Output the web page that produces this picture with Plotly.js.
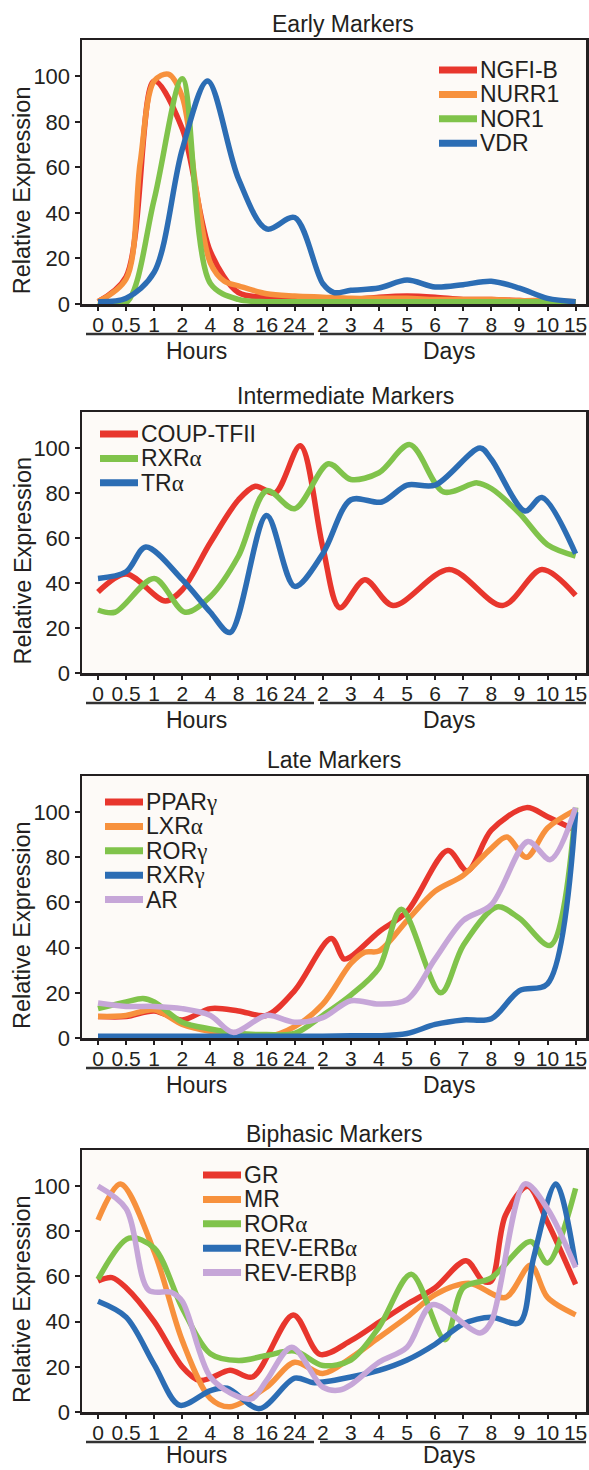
<!DOCTYPE html>
<html>
<head>
<meta charset="utf-8">
<script src="https://cdn.plot.ly/plotly-3.0.1.min.js"></script>
<style>
html,body{margin:0;padding:0;background:#ffffff;}
#chart{width:589px;height:1470px;}
</style>
</head>
<body>
<div id="chart"></div>
<script>
// ---------------- categories / labels ----------------
const timeLabels = ['0','0.5','1','2','4','8','16','24','2','3','4','5','6','7','8','9','10','15'];
const periodLabels = ['Hours','Days'];
const panelTitles = ['Early Markers','Intermediate Markers','Late Markers','Biphasic Markers'];
const yTitle = 'Relative Expression';
const yTicks = [0,20,40,60,80,100];

// ---------------- Early markers (x = category index) ----------------
const earlyNames = ['NGFI-B','NURR1','NOR1','VDR'];
const ngfibT = [0,1,2,3,4,5,6,7,8,9,10,11,12,13,14,15,16,17];
const ngfibV = [1,12,98,77,23,5,3,3,2.5,2,3,3.5,3,2,2,1.5,1,1];
const nurr1T = [0,1,1.5,2,2.5,3,3.5,4,4.5,5,6,7,8,9,10,11,12,13,14,15,16,17];
const nurr1V = [1,11,62,98,101,91,50,18,10,8,4.5,3.5,3,2.5,2.5,2.5,2,2,2,1.5,1.5,1];
const nor1T = [0,1,2,3,4,5,6,7,8,9,10,11,12,13,14,15,16,17];
const nor1V = [1,0.5,46,99,9,2,1,1,1,1,1,1,1,1,1,1,1,1];
const vdrT = [0,1,2,3,3.9,5,6,7,8,8.4,9,10,11,12,13,14,15,16,17];
const vdrV = [1,2.5,14,68,98,55,33,38,9,5,6,7,10.5,7.5,8.5,10,7,2.5,1];

// ---------------- Intermediate markers ----------------
const interNames = ['COUP-TFII','RXRα','TRα'];
const couptfT = [0,1,2.4,3,4,5,5.6,6.3,7.2,8,8.6,9.5,10.5,12.5,14.4,15.8,17];
const couptfV = [36,44,32,37,58,77,83,80,101,56,29,41.5,30,46,30,46,34.5];
const rxraT = [0,0.6,2,3.1,4,5,6,7,8.2,9,10,11.1,12.3,13.5,14,15,16,17];
const rxraV = [28,27,42,27,34,52,81,73,93,86,89,101.5,80.5,84.5,82,71,57,52];
const traT = [0,1,1.7,3,4,4.7,6,7,8,9,10.1,11,12,13.6,14,15.2,15.8,17];
const traV = [42,45,56,41.5,27,18,70,38.5,53,77,76,83.5,83.5,100,95,72,78,53];

// ---------------- Late markers ----------------
const lateNames = ['PPARγ','LXRα','RORγ','RXRγ','AR'];
const ppargT = [0,1,2,3,4,5,6,7,8.3,8.75,9,10,11,12.45,13.15,14,15.25,16,17];
const ppargV = [9.5,9.5,12,8,13,12,10,21,44,35,36,47,56,83,74,92,102,98,92];
const lxraT = [0,1,2,3,4,5,6,7,8,9,9.5,10,11,12,13,14,14.55,15.25,16,17];
const lxraV = [9.5,10,12.5,6,3,2,0.5,5,15,33,38,38.5,52,65,72,84,89,80,93,101];
const rorgT = [0,1,1.6,2,3,4,5,6,7,8,9,10,10.8,12.2,13,14.2,15,16.1,17];
const rorgV = [13,16,17.5,16,7,4,2,1.5,2,10,19,31,57,20,41,58,53,41,102];
const rxrgT = [0,1,2,3,4,5,6,7,8,9,10,11,12,13,14,15,16,17];
const rxrgV = [0.8,0.8,0.8,0.8,0.8,0.8,0.8,0.8,0.8,1,1,2,6,8,8.5,21,24,100];
const arT = [0,1,2,3,4,4.8,6,7,8,9,10,11,12,13,14,15.3,16.1,17];
const arV = [15.5,14,14,13,10,2.5,10,7,9,16.5,15,17,35,52,59,87,79,102];

// ---------------- Biphasic markers ----------------
const biNames = ['GR','MR','RORα','REV-ERBα','REV-ERBβ'];
const grT = [0,0.5,1,2,3,3.6,4,4.7,5.5,6.95,7.9,9,10,11,12,13.1,13.7,14,14.5,15.3,16,17];
const grV = [58,59.5,55,40,20,14,15,18.5,15.5,43,25.5,31.6,39.7,47.7,55,67,58,58,87,100,84,56.5];
const mrT = [0,0.8,2,3,4,4.7,6,7,8,9,10,11,12,13.2,14.5,15.4,16,17];
const mrV = [85,101,71,31.6,6,2.3,11,22,17,24,33,42,52,57,50.7,65,50.7,43];
const roraT = [0,1.1,2,3,4,5,6,7,8,9,10,11.15,12.35,13,14,15.4,16,17];
const roraV = [58.7,77,72.6,46,25.8,22.8,25,27,20.6,23,37.5,61,32,55,59.4,75.5,66,99];
const reverbaT = [0,1,2,2.9,4,4.6,5.75,7,7.7,9,10,11,12,13,14,15,15.5,16.3,17];
const reverbaV = [49,42,21,3,9.5,10.5,1.5,15,13,15.5,18.4,23,30,39,42,39.5,68,101,65];
const reverbbT = [0,1,1.8,2.6,3,4,5,5.5,6,6.9,8,8.6,9,10,11,11.9,13.6,14,15.2,16,17];
const reverbbV = [100,90,54,53,49,15.5,6.7,6,14,28.7,11,9.7,12,22,28.7,47.5,35,40,101,90,64];

// ---------------- styling ----------------
const FONT = '"Liberation Sans", Arial, Helvetica, sans-serif';
const INK = '#231f20';
const C = {red:'#e8362d', orange:'#f7913d', green:'#80c34b', blue:'#2c6db4', lilac:'#c6a6d8'};
const W = 589, H = 1470;
const PX_LEFT = 82, PX_RIGHT = 586;
const xRange = [-0.57, 17.37];
const yRange = [0, 116];

const panels = [
  {title: panelTitles[0], names: earlyNames, t:[ngfibT,nurr1T,nor1T,vdrT], v:[ngfibV,nurr1V,nor1V,vdrV],
   colors:[C.red,C.orange,C.green,C.blue], top:40, bottom:304, legLeft:357, legTop:30, titleShift:9, labShift:-47},
  {title: panelTitles[1], names: interNames, t:[couptfT,rxraT,traT], v:[couptfV,rxraV,traV],
   colors:[C.red,C.green,C.blue], top:412, bottom:673, legLeft:18, legTop:22, titleShift:11, labShift:-47},
  {title: panelTitles[2], names: lateNames, t:[ppargT,lxraT,rorgT,rxrgT,arT], v:[ppargV,lxraV,rorgV,rxrgV,arV],
   colors:[C.red,C.orange,C.green,C.blue,C.lilac], top:776, bottom:1038, legLeft:23, legTop:26, titleShift:0, labShift:-47},
  {title: panelTitles[3], names: biNames, t:[grT,mrT,roraT,reverbaT,reverbbT], v:[grV,mrV,roraV,reverbaV,reverbbV],
   colors:[C.red,C.orange,C.green,C.blue,C.lilac], top:1150, bottom:1412, legLeft:121, legTop:25, titleShift:0, labShift:-43}
];

const tickPos = timeLabels.map((_, i) => i);
const greek = s => s.replace(/([αβγ])/g, '<span style="font-family:\'Liberation Serif\', serif">$1</span>');

const traces = [];
const shapes = [];
const annotations = [];
const layout = {
  width: W, height: H, autosize: false,
  margin: {l:0, r:0, t:0, b:0, pad:0},
  paper_bgcolor: '#ffffff',
  plot_bgcolor: '#fdfaf7',
  font: {family: FONT, color: INK, size: 22},
  showlegend: false,
  shapes: shapes,
  annotations: annotations
};

const LEG_ROW = 24.4, SW_LEN = 38;

panels.forEach((p, k) => {
  const suf = k === 0 ? '' : String(k + 1);
  const xa = 'x' + suf, ya = 'y' + suf;
  const yDom = [1 - p.bottom / H, 1 - p.top / H];
  layout['xaxis' + suf] = {
    domain: [PX_LEFT / W, PX_RIGHT / W], range: xRange, anchor: ya,
    tickmode: 'array', tickvals: tickPos, ticktext: timeLabels,
    ticks: 'outside', ticklen: 4, tickwidth: 2, tickcolor: INK,
    ticklabelstandoff: -4,
    showline: true, linecolor: INK, linewidth: 2.5, mirror: true,
    showgrid: false, zeroline: false, fixedrange: true,
    tickfont: {family: FONT, size: 21, color: INK}
  };
  layout['yaxis' + suf] = {
    domain: yDom, range: yRange, anchor: xa,
    tickmode: 'array', tickvals: yTicks,
    ticks: 'outside', ticklen: 5, tickwidth: 2, tickcolor: INK,
    showline: true, linecolor: INK, linewidth: 2.5, mirror: true,
    showgrid: false, zeroline: false, fixedrange: true,
    tickfont: {family: FONT, size: 22, color: INK}
  };

  p.names.forEach((name, j) => {
    traces.push({
      type: 'scatter', mode: 'lines', name: name,
      x: p.t[j], y: p.v[j], xaxis: xa, yaxis: ya,
      line: {color: p.colors[j], width: 5.5, shape: 'spline', smoothing: 0.9},
      hoverinfo: 'skip'
    });
    // legend swatch + label
    const yOff = -(p.legTop + j * LEG_ROW);
    shapes.push({
      type: 'line', xref: xa + ' domain', yref: ya + ' domain',
      xsizemode: 'pixel', xanchor: 0, x0: p.legLeft, x1: p.legLeft + SW_LEN,
      ysizemode: 'pixel', yanchor: 1, y0: yOff, y1: yOff,
      line: {color: p.colors[j], width: 7}
    });
    annotations.push({
      text: greek(name), showarrow: false,
      xref: xa + ' domain', x: 0, xshift: p.legLeft + SW_LEN + 1, xanchor: 'left',
      yref: ya + ' domain', y: 1, yshift: yOff, yanchor: 'middle',
      font: {family: FONT, size: 23, color: INK}
    });
  });

  // panel title
  annotations.push({
    text: p.title, showarrow: false,
    xref: xa + ' domain', x: 0.5, xshift: p.titleShift, xanchor: 'center',
    yref: ya + ' domain', y: 1, yshift: 1, yanchor: 'bottom',
    font: {family: FONT, size: 23, color: INK}
  });
  // y-axis title
  annotations.push({
    text: yTitle, showarrow: false, textangle: -90,
    xref: 'paper', x: 22 / W, xanchor: 'center',
    yref: ya, y: 50, yanchor: 'middle',
    font: {family: FONT, size: 23.5, color: INK}
  });
  // Hours / Days underline + labels
  const groups = [{lab: periodLabels[0], a: 4, b: 232, cx: 3.5}, {lab: periodLabels[1], a: 238, b: 504, cx: 12.5}];
  groups.forEach(g => {
    shapes.push({
      type: 'line', xref: xa + ' domain', yref: ya + ' domain',
      xsizemode: 'pixel', xanchor: 0, x0: g.a, x1: g.b,
      ysizemode: 'pixel', yanchor: 0, y0: -30, y1: -30,
      line: {color: '#333333', width: 2.5}
    });
    annotations.push({
      text: g.lab, showarrow: false, borderpad: 0, borderwidth: 0,
      xref: xa, x: g.cx, xanchor: 'center',
      yref: ya + ' domain', y: 0, yshift: p.labShift, yanchor: 'middle',
      font: {family: FONT, size: 23, color: INK}
    });
  });
});

Plotly.newPlot('chart', traces, layout, {staticPlot: true, displayModeBar: false});
</script>
</body>
</html>
